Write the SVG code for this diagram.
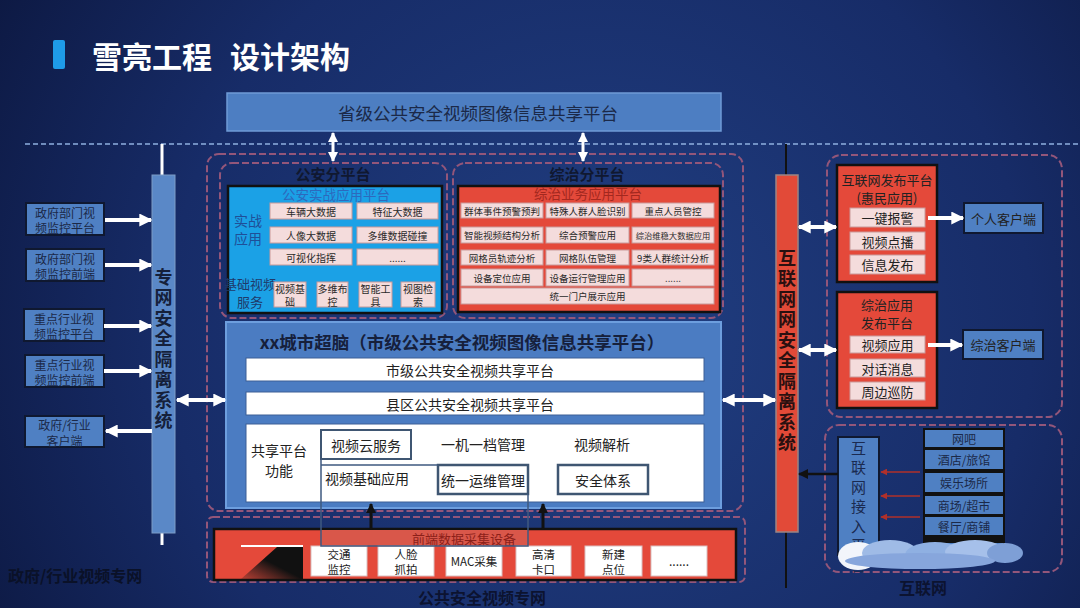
<svg xmlns="http://www.w3.org/2000/svg" width="1080" height="608" viewBox="0 0 1080 608">
<defs>
<radialGradient id="bg" cx="600" cy="330" r="720" gradientUnits="userSpaceOnUse">
<stop offset="0" stop-color="#213f82"/>
<stop offset="0.6" stop-color="#172c68"/>
<stop offset="1" stop-color="#0c173f"/>
</radialGradient>
<linearGradient id="tri" x1="0" y1="1" x2="1" y2="0">
<stop offset="0" stop-color="#1a1a1a" stop-opacity="0.2"/>
<stop offset="0.5" stop-color="#111"/>
<stop offset="1" stop-color="#111"/>
</linearGradient>
<marker id="aw" viewBox="0 0 10 10" refX="9" refY="5" markerWidth="13" markerHeight="13" markerUnits="userSpaceOnUse" orient="auto-start-reverse"><path d="M0,0 L10,5 L0,10 z" fill="#fff"/></marker>
<marker id="aws" viewBox="0 0 10 10" refX="9" refY="5" markerWidth="10" markerHeight="10" markerUnits="userSpaceOnUse" orient="auto-start-reverse"><path d="M0,0 L10,5 L0,10 z" fill="#fff"/></marker>
<marker id="ab" viewBox="0 0 10 10" refX="9" refY="5" markerWidth="10" markerHeight="10" markerUnits="userSpaceOnUse" orient="auto-start-reverse"><path d="M0,0 L10,5 L0,10 z" fill="#111"/></marker>
<marker id="ar" viewBox="0 0 10 10" refX="9" refY="5" markerWidth="7" markerHeight="7" markerUnits="userSpaceOnUse" orient="auto-start-reverse"><path d="M0,0 L10,5 L0,10 z" fill="#b0302a"/></marker>
</defs>
<style>
text{font-family:"Noto Sans CJK SC","Noto Sans",sans-serif;dominant-baseline:central;text-anchor:middle;fill:#1b2948}
.vt{writing-mode:vertical-rl;text-anchor:start}
.dash{fill:none;stroke:#93567a;stroke-width:2;stroke-dasharray:7 3}
.blue{fill:#4f80c3;stroke:#0f1830;stroke-width:2}
.red{fill:#e4493a;stroke:#111;stroke-width:2.5}
.cell{fill:#f4dcdc;stroke:#c99a9a;stroke-width:1}
.wcell{fill:#fff;stroke:#d9c0c0;stroke-width:1}
.wa{stroke:#fff;stroke-width:4;fill:none}
.t10{font-size:10px;fill:#2a2a2a}
.t95{font-size:9.5px;fill:#2a2a2a}
.t12{font-size:12px}
.t13{font-size:13px;fill:#222}
.t14{font-size:14px;fill:#222}
.bold{font-weight:700}
</style>
<rect width="1080" height="608" fill="url(#bg)"/>

<g id="title">
<rect x="53" y="40" width="12" height="29" fill="#1e9be8" rx="2"/>
<text x="92" y="55" style="font-size:30px;font-weight:700;fill:#fff;text-anchor:start"><tspan x="92">雪亮工程</tspan><tspan x="230">设计架构</tspan></text>
</g>

<line x1="25" y1="144" x2="1080" y2="144" stroke="#8fb0e0" stroke-width="1.5" stroke-dasharray="5 3"/>

<g id="province">
<rect x="227" y="93" width="494" height="38" fill="#4d7ec2" stroke="#6f9bd6" stroke-width="1.5"/>
<text x="478" y="112" style="font-size:17.5px">省级公共安全视频图像信息共享平台</text>
</g>

<g id="regions">
<rect class="dash" x="207" y="154" width="536" height="357" rx="12"/>
<rect class="dash" x="220" y="163" width="227" height="155" rx="12"/>
<rect class="dash" x="453" y="163" width="270" height="155" rx="12"/>
<rect class="dash" x="207" y="517" width="538" height="65" rx="6"/>
<rect class="dash" x="827" y="155" width="235" height="262" rx="14"/>
<rect class="dash" x="825" y="425" width="237" height="147" rx="14"/>
</g>

<g id="left-bar">
<line x1="162" y1="144" x2="162" y2="175" stroke="#fff" stroke-width="3"/>
<line x1="162" y1="533" x2="162" y2="545" stroke="#fff" stroke-width="3"/>
<rect x="152" y="175" width="23" height="358" fill="#5a88c7" stroke="#7d9cc6" stroke-width="1"/>
<text class="bold vt" x="163.5" y="268" style="font-size:18px;fill:#15203a;letter-spacing:2.5px">专网安全隔离系统</text>
</g>

<g id="gov-platform"><rect class="blue" x="26" y="203" width="78" height="32"/><text class="t12"><tspan x="65" y="211.5">政府部门视</tspan><tspan x="65" y="227">频监控平台</tspan></text></g>
<g id="gov-front"><rect class="blue" x="26" y="249" width="78" height="32"/><text class="t12"><tspan x="65" y="257.5">政府部门视</tspan><tspan x="65" y="273">频监控前端</tspan></text></g>
<g id="ind-platform"><rect class="blue" x="24" y="309" width="80" height="32"/><text class="t12"><tspan x="64" y="317.5">重点行业视</tspan><tspan x="64" y="333">频监控平台</tspan></text></g>
<g id="ind-front"><rect class="blue" x="25" y="355" width="79" height="32"/><text class="t12"><tspan x="64.5" y="363.5">重点行业视</tspan><tspan x="64.5" y="379">频监控前端</tspan></text></g>
<g id="gov-client"><rect class="blue" x="25" y="416" width="79" height="31"/><text class="t12"><tspan x="64.5" y="424">政府/行业</tspan><tspan x="64.5" y="439.5">客户端</tspan></text></g>

<g id="gongan">
<text class="bold" x="333" y="173" style="font-size:15px;fill:#101830">公安分平台</text>
<rect x="228" y="186" width="214" height="127" fill="#1ba1e6" stroke="#111" stroke-width="2.5"/>
<text x="336" y="194" style="font-size:13.5px;fill:#2d69bd">公安实战应用平台</text>
<text style="font-size:14px;fill:#1f4f98"><tspan x="248" y="220">实战</tspan><tspan x="248" y="238">应用</tspan></text>
<rect class="cell" x="270" y="203" width="82" height="16"/><text class="t10" x="311" y="211">车辆大数据</text>
<rect class="cell" x="357" y="203" width="81" height="16"/><text class="t10" x="397.5" y="211">特征大数据</text>
<rect class="cell" x="270" y="227" width="82" height="16"/><text class="t10" x="311" y="235">人像大数据</text>
<rect class="cell" x="357" y="227" width="81" height="16"/><text class="t10" x="397.5" y="235">多维数据碰撞</text>
<rect class="cell" x="270" y="249" width="82" height="16"/><text class="t10" x="311" y="257">可视化指挥</text>
<rect class="cell" x="357" y="249" width="81" height="16"/><text class="t10" x="397.5" y="257">......</text>
<text style="font-size:13px;fill:#1f3a6a"><tspan x="250" y="283">基础视频</tspan><tspan x="250" y="301">服务</tspan></text>
<rect class="cell" x="274" y="282" width="32" height="25"/><text class="t10"><tspan x="290" y="287.5">视频基</tspan><tspan x="290" y="301">础</tspan></text>
<rect class="cell" x="317" y="282" width="31" height="25"/><text class="t10"><tspan x="332.5" y="287.5">多维布</tspan><tspan x="332.5" y="301">控</tspan></text>
<rect class="cell" x="359" y="282" width="33" height="25"/><text class="t10"><tspan x="375.5" y="287.5">智能工</tspan><tspan x="375.5" y="301">具</tspan></text>
<rect class="cell" x="401" y="282" width="34" height="25"/><text class="t10"><tspan x="418" y="287.5">视图检</tspan><tspan x="418" y="301">索</tspan></text>
</g>

<g id="zongzhi">
<text class="bold" x="587" y="173" style="font-size:15px;fill:#101830">综治分平台</text>
<rect x="458" y="186" width="262" height="126" fill="#e4493a" stroke="#111" stroke-width="2.5"/>
<text x="588" y="193" style="font-size:13.5px;fill:#a3281f">综治业务应用平台</text>
<rect class="cell" x="461" y="203" width="82" height="15"/><text class="t95" x="502" y="210.5">群体事件预警预判</text>
<rect class="cell" x="546" y="203" width="83" height="15"/><text class="t95" x="587.5" y="210.5">特殊人群人脸识别</text>
<rect class="cell" x="632" y="203" width="82" height="15"/><text class="t95" x="673" y="210.5">重点人员管控</text>
<rect class="cell" x="461" y="227" width="82" height="16"/><text class="t95" x="502" y="235">智能视频结构分析</text>
<rect class="cell" x="546" y="227" width="83" height="16"/><text class="t95" x="587.5" y="235">综合预警应用</text>
<rect class="cell" x="632" y="227" width="82" height="16"/><text x="673" y="235" style="font-size:8.3px;fill:#2a2a2a">综治维稳大数据应用</text>
<rect class="cell" x="461" y="250" width="82" height="15"/><text class="t95" x="502" y="257.5">网格员轨迹分析</text>
<rect class="cell" x="546" y="250" width="83" height="15"/><text class="t95" x="587.5" y="257.5">网格队伍管理</text>
<rect class="cell" x="632" y="250" width="82" height="15"/><text class="t95" x="673" y="257.5">9类人群统计分析</text>
<rect class="cell" x="461" y="269" width="82" height="17"/><text class="t95" x="502" y="277.5">设备定位应用</text>
<rect class="cell" x="546" y="269" width="83" height="17"/><text class="t95" x="587.5" y="277.5">设备运行管理应用</text>
<rect class="cell" x="632" y="269" width="82" height="17"/><text class="t95" x="673" y="277.5">......</text>
<rect class="cell" x="461" y="288" width="253" height="16"/><text class="t95" x="587.5" y="296">统一门户展示应用</text>
</g>

<g id="city-brain">
<rect x="226" y="322" width="495" height="186" fill="#4b7cc2" stroke="#6d9ede" stroke-width="2"/>
<text class="bold" x="462" y="341" style="font-size:17.5px;fill:#16203c">xx城市超脑（市级公共安全视频图像信息共享平台）</text>
<rect x="246" y="358" width="458" height="23" fill="#fff" stroke="#3d5f95" stroke-width="1"/>
<text class="t14" x="470" y="369.5">市级公共安全视频共享平台</text>
<rect x="246" y="392" width="458" height="23" fill="#fff" stroke="#3d5f95" stroke-width="1"/>
<text class="t14" x="470" y="403.5">县区公共安全视频共享平台</text>
<rect x="246" y="424" width="458" height="78" fill="#fff" stroke="#3d5f95" stroke-width="1"/>
<text class="t14"><tspan x="279" y="450">共享平台</tspan><tspan x="279" y="470">功能</tspan></text>
<rect x="321" y="430" width="90" height="29" fill="none" stroke="#3f5672" stroke-width="2"/>
<text class="t14" x="366" y="444.5">视频云服务</text>
<text class="t14" x="483" y="444">一机一档管理</text>
<text class="t14" x="602" y="444">视频解析</text>
<text class="t14" x="367" y="478">视频基础应用</text>
<rect x="438" y="465" width="90" height="29" fill="none" stroke="#3f5672" stroke-width="2.5"/>
<text class="t14" x="483" y="479.5">统一运维管理</text>
<rect x="558" y="465" width="90" height="29" fill="none" stroke="#3f5672" stroke-width="2.5"/>
<text class="t14" x="603" y="479.5">安全体系</text>
</g>

<g id="front-end">
<rect x="214" y="529" width="522" height="51" fill="#e4493a" stroke="#111" stroke-width="2.5"/>
<polygon points="277,547 303,547 303,579 241,579" fill="url(#tri)"/>
<line x1="241" y1="546" x2="303" y2="546" stroke="#fff" stroke-width="2"/>
<rect x="321" y="530" width="207" height="16" fill="#d9574a"/>
<text x="464" y="538" style="font-size:13px;fill:#8c2019">前端数据采集设备</text>
<rect class="wcell" x="311" y="546" width="56" height="30"/><text style="font-size:11.5px;fill:#222"><tspan x="339" y="553.5">交通</tspan><tspan x="339" y="568.5">监控</tspan></text>
<rect class="wcell" x="378" y="546" width="56" height="30"/><text style="font-size:11.5px;fill:#222"><tspan x="406" y="553.5">人脸</tspan><tspan x="406" y="568.5">抓拍</tspan></text>
<rect class="wcell" x="446" y="546" width="56" height="30"/><text x="474" y="561" style="font-size:11.5px;fill:#222">MAC采集</text>
<rect class="wcell" x="516" y="546" width="55" height="30"/><text style="font-size:11.5px;fill:#222"><tspan x="543.5" y="553.5">高清</tspan><tspan x="543.5" y="568.5">卡口</tspan></text>
<rect class="wcell" x="585" y="546" width="57" height="30"/><text style="font-size:11.5px;fill:#222"><tspan x="613.5" y="553.5">新建</tspan><tspan x="613.5" y="568.5">点位</tspan></text>
<rect class="wcell" x="651" y="546" width="56" height="30"/><text x="679" y="560" style="font-size:12px;fill:#222">......</text>
</g>

<path d="M321,465 H438 M321,459 V546 H528 V494" fill="none" stroke="#3f5a80" stroke-width="1.5"/>

<g id="right-bar">
<line x1="786" y1="144" x2="786" y2="175" stroke="#111" stroke-width="2"/>
<line x1="786" y1="532" x2="786" y2="588" stroke="#111" stroke-width="2"/>
<rect x="776" y="175" width="22" height="357" fill="#e24a38" stroke="#9a8585" stroke-width="1.5"/>
<text class="bold vt" x="787" y="249" style="font-size:18px;fill:#2a1010;letter-spacing:2.5px">互联网网安全隔离系统</text>
</g>

<g id="internet-publish">
<rect class="red" x="837" y="165" width="100" height="117"/>
<text class="t13"><tspan x="887" y="178.5">互联网发布平台</tspan><tspan x="887" y="196.5">(惠民应用)</tspan></text>
<rect class="cell" x="850" y="208" width="75" height="19"/><text class="t13" x="887.5" y="217.5">一键报警</text>
<rect class="cell" x="850" y="232" width="75" height="18"/><text class="t13" x="887.5" y="241">视频点播</text>
<rect class="cell" x="850" y="255" width="75" height="19"/><text class="t13" x="887.5" y="264.5">信息发布</text>
</g>
<g id="personal-client"><rect class="blue" x="964" y="203" width="79" height="30"/><text class="t13" x="1003.5" y="218">个人客户端</text></g>

<g id="zongzhi-publish">
<rect class="red" x="837" y="292" width="100" height="116"/>
<text class="t13"><tspan x="887" y="303.5">综治应用</tspan><tspan x="887" y="321.5">发布平台</tspan></text>
<rect class="cell" x="850" y="336" width="75" height="17"/><text class="t13" x="887.5" y="344.5">视频应用</text>
<rect class="cell" x="850" y="359" width="75" height="18"/><text class="t13" x="887.5" y="368">对话消息</text>
<rect class="cell" x="850" y="382" width="75" height="18"/><text class="t13" x="887.5" y="391">周边巡防</text>
</g>
<g id="zongzhi-client"><rect class="blue" x="963" y="330" width="80" height="29"/><text class="t13" x="1003" y="344.5">综治客户端</text></g>

<g id="internet-access">
<rect class="blue" x="838" y="437" width="41" height="118"/>
<text class="vt" x="858.5" y="440.5" style="font-size:15px;fill:#1a2a50;letter-spacing:4.5px">互联网接入平台</text>
</g>
<g id="venues">
<rect x="923" y="428" width="82" height="125" fill="#111"/>
<rect class="blue" x="925" y="430" width="78" height="17" style="stroke:none"/><text class="t12" x="964" y="438.5">网吧</text>
<rect class="blue" x="925" y="450" width="78" height="19" style="stroke:none"/><text class="t12" x="964" y="459.5">酒店/旅馆</text>
<rect class="blue" x="925" y="473" width="78" height="19" style="stroke:none"/><text class="t12" x="964" y="482.5">娱乐场所</text>
<rect class="blue" x="925" y="496" width="78" height="18" style="stroke:none"/><text class="t12" x="964" y="505">商场/超市</text>
<rect class="blue" x="925" y="517" width="78" height="18" style="stroke:none"/><text class="t12" x="964" y="526">餐厅/商铺</text>
<rect class="blue" x="925" y="543" width="78" height="10" style="stroke:none"/>
</g>

<g id="cloud">
<ellipse cx="858" cy="556" rx="20" ry="14" fill="#f2f5fb"/>
<ellipse cx="890" cy="553" rx="28" ry="13" fill="#9fbbe6"/>
<ellipse cx="935" cy="555" rx="30" ry="13" fill="#8fb0e2"/>
<ellipse cx="975" cy="552" rx="30" ry="12" fill="#a6c0ea"/>
<ellipse cx="1005" cy="553" rx="18" ry="10" fill="#7e9fd6"/>
<ellipse cx="920" cy="561" rx="75" ry="8" fill="#87a6dc"/>
</g>

<g id="connectors">
<line class="wa" x1="333" y1="133" x2="333" y2="161" style="stroke-width:3" marker-start="url(#aws)" marker-end="url(#aws)"/>
<line class="wa" x1="583" y1="133" x2="583" y2="161" style="stroke-width:3" marker-start="url(#aws)" marker-end="url(#aws)"/>
<line class="wa" x1="105" y1="220" x2="151" y2="220" marker-end="url(#aw)"/>
<line class="wa" x1="105" y1="265" x2="151" y2="265" marker-end="url(#aw)"/>
<line class="wa" x1="104" y1="326" x2="151" y2="326" marker-end="url(#aw)"/>
<line class="wa" x1="104" y1="371" x2="151" y2="371" marker-end="url(#aw)"/>
<line class="wa" x1="152" y1="431" x2="106" y2="431" marker-end="url(#aw)"/>
<line class="wa" x1="177" y1="400" x2="225" y2="400" marker-start="url(#aw)" marker-end="url(#aw)"/>
<line class="wa" x1="723" y1="400" x2="775" y2="400" marker-start="url(#aw)" marker-end="url(#aw)"/>
<line class="wa" x1="799" y1="227" x2="836" y2="227" marker-start="url(#aw)" marker-end="url(#aw)"/>
<line class="wa" x1="799" y1="350" x2="836" y2="350" marker-start="url(#aw)" marker-end="url(#aw)"/>
<line class="wa" x1="928" y1="218" x2="963" y2="218" marker-end="url(#aw)"/>
<line class="wa" x1="928" y1="345" x2="962" y2="345" marker-end="url(#aw)"/>
<line x1="371" y1="530" x2="371" y2="504" stroke="#111" stroke-width="3" marker-end="url(#ab)"/>
<line x1="543" y1="530" x2="543" y2="504" stroke="#111" stroke-width="3" marker-end="url(#ab)"/>
<line x1="838" y1="474" x2="799" y2="474" stroke="#111" stroke-width="2.5" marker-end="url(#ab)"/>
<line x1="920" y1="472" x2="881" y2="472" stroke="#b0302a" stroke-width="1.5" marker-end="url(#ar)"/>
<line x1="920" y1="496" x2="881" y2="496" stroke="#b0302a" stroke-width="1.5" marker-end="url(#ar)"/>
<line x1="920" y1="517" x2="881" y2="517" stroke="#b0302a" stroke-width="1.5" marker-end="url(#ar)"/>
</g>

<g id="labels">
<text class="bold" x="8" y="575" style="font-size:16px;fill:#0a1128;text-anchor:start">政府/行业视频专网</text>
<text class="bold" x="482" y="597" style="font-size:16px;fill:#0c1330">公共安全视频专网</text>
<text x="923" y="587" style="font-size:16px;fill:#0c1330;font-weight:600">互联网</text>
</g>
</svg>
